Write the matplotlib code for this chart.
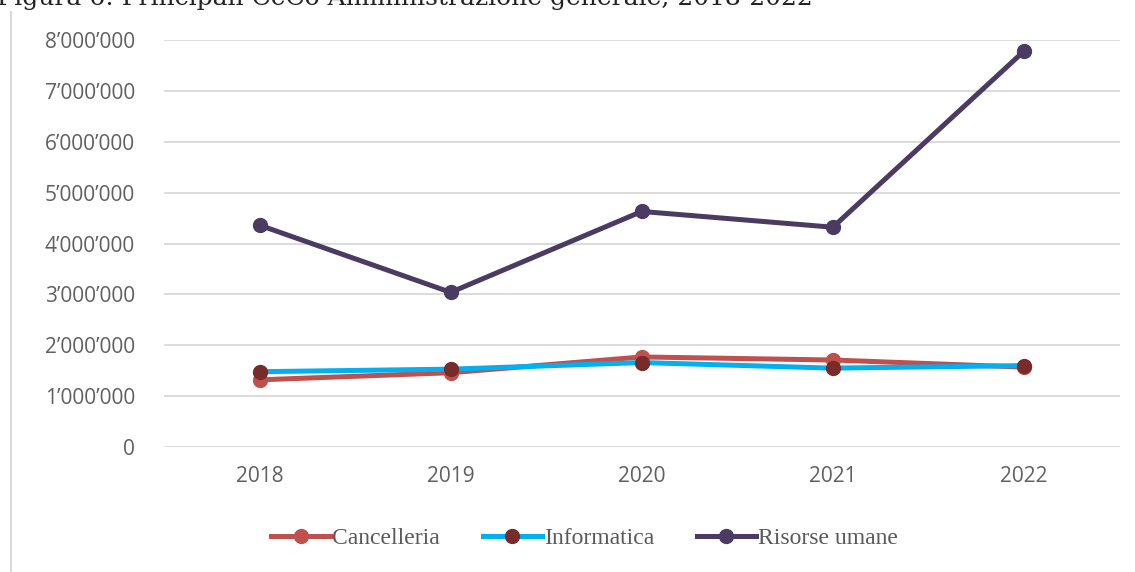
import matplotlib
matplotlib.use("Agg")
import matplotlib.pyplot as plt
from matplotlib.ticker import FuncFormatter
from matplotlib.lines import Line2D

years = ["2018", "2019", "2020", "2021", "2022"]
cancelleria = [1320000, 1460000, 1770000, 1710000, 1570000]
informatica = [1480000, 1530000, 1660000, 1550000, 1600000]
risorse_umane = [4360000, 3040000, 4630000, 4320000, 7780000]
yticks = [0, 1000000, 2000000, 3000000, 4000000, 5000000, 6000000, 7000000, 8000000]

W, H = 1135, 572
fig = plt.figure(figsize=(W / 100, H / 100), dpi=100)
ax = fig.add_axes([164 / W, 1 - 447 / H, (1119.5 - 164) / W, (447 - 40) / H])

x = list(range(len(years)))
ax.plot(x, cancelleria, color="#C0504D", lw=3.6, marker="o", ms=10,
        mfc="#C0504D", mec="#C0504D", zorder=3, label="Cancelleria")
ax.plot(x, informatica, color="#00B0F0", lw=3.6, marker="o", ms=10,
        mfc="#772C2A", mec="#772C2A", zorder=4, label="Informatica")
ax.plot(x, risorse_umane, color="#4B3A62", lw=3.6, marker="o", ms=10,
        mfc="#4B3A62", mec="#4B3A62", zorder=5, label="Risorse umane")

ax.set_xlim(-0.5, len(years) - 0.5)
ax.set_ylim(0, 8000000)
ax.set_xticks(x)
ax.set_xticklabels(years)
ax.set_yticks(yticks)
ax.yaxis.set_major_formatter(FuncFormatter(lambda v, p: f"{int(v):,}".replace(",", "\u2019")))
ax.grid(axis="y", color="#D9D9D9", lw=1.3, zorder=0)
ax.set_axisbelow(True)
for s in ax.spines.values():
    s.set_visible(False)
ax.tick_params(axis="both", length=0, labelsize=15, colors="#606060", labelfontfamily="Open Sans")
ax.tick_params(axis="y", pad=21)
ax.tick_params(axis="x", pad=14)

leg = fig.legend(loc="center", bbox_to_anchor=(0.515, 1 - 538 / H), ncol=3, frameon=False,
                 prop={"family": "Liberation Serif", "size": 17}, handlelength=2.5,
                 handletextpad=0.1, columnspacing=1.8)
for t in leg.get_texts():
    t.set_color("#595959")

# left border of chart area
fig.add_artist(Line2D([11 / W, 11 / W], [0, 1 - 12 / H], color="#D9D9D9", lw=1.5,
                      transform=fig.transFigure))

fig.text(-0.003, 1 - 5 / H, "Figura 6: Principali CeCo Amministrazione generale, 2018-2022",
         ha="left", va="baseline", fontsize=18, family="DejaVu Serif", color="#222222")

fig.savefig("out.png", dpi=100)
